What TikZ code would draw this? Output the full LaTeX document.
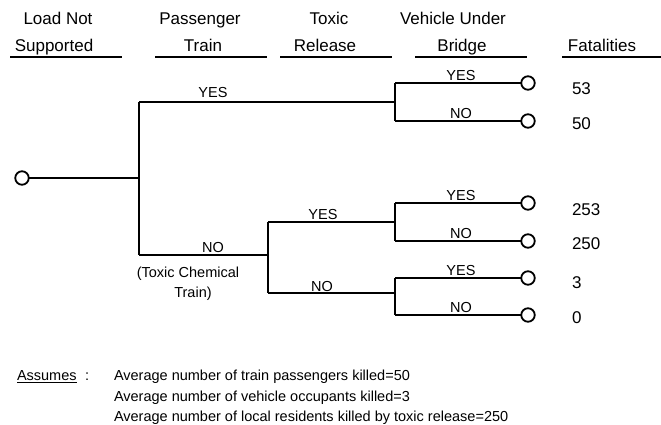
\documentclass[tikz,border=0pt]{standalone}
\usepackage{fontspec}
\setmainfont{Liberation Sans}
\begin{document}
\begin{tikzpicture}[x=1pt,y=-1pt,
  every node/.style={inner sep=0pt, outer sep=0pt},
  hdr/.style={font=\fontsize{17}{20}\selectfont, anchor=base},
  lbl/.style={font=\fontsize{14.5}{17}\selectfont, anchor=base},
  num/.style={font=\fontsize{17}{20}\selectfont, anchor=base west},
  note/.style={font=\fontsize{14.5}{17}\selectfont, anchor=base west},
  evt/.style={circle, draw, line width=1.8pt, minimum size=13.5pt, fill=white},
  br/.style={line width=1.8pt},
  ul/.style={line width=1.8pt}]
\useasboundingbox (0,0) rectangle (661,425);

% headers
\node[hdr] (h1a) at (58,25) {Load Not};
\node[hdr] (h1b) at (54,52) {Supported};
\node[hdr] (h2a) at (200,25) {Passenger};
\node[hdr] (h2b) at (203,52) {Train};
\node[hdr] (h3a) at (329,25) {Toxic};
\node[hdr] (h3b) at (325,52) {Release};
\node[hdr] (h4a) at (453,25) {Vehicle Under};
\node[hdr] (h4b) at (462,52) {Bridge};
\node[hdr] (h5b) at (602,52) {Fatalities};
\coordinate (u1s) at (10,57);  \coordinate (u1e) at (122,57);
\coordinate (u2s) at (155,57); \coordinate (u2e) at (267,57);
\coordinate (u3s) at (280,57); \coordinate (u3e) at (392,57);
\coordinate (u4s) at (415,57); \coordinate (u4e) at (527,57);
\coordinate (u5s) at (562,57); \coordinate (u5e) at (661,57);
\draw[ul] (u1s) -- (u1e);
\draw[ul] (u2s) -- (u2e);
\draw[ul] (u3s) -- (u3e);
\draw[ul] (u4s) -- (u4e);
\draw[ul] (u5s) -- (u5e);

% tree junctions
\coordinate (j0)  at (139,178);
\coordinate (jy)  at (139,102);
\coordinate (jn)  at (139,255);
\coordinate (a1)  at (395,102);
\coordinate (a1y) at (395,83);
\coordinate (a1n) at (395,121);
\coordinate (b0)  at (268,255);
\coordinate (by)  at (268,222);
\coordinate (bn)  at (268,293);
\coordinate (c1)  at (395,222);
\coordinate (c1y) at (395,203);
\coordinate (c1n) at (395,241);
\coordinate (c2)  at (395,293);
\coordinate (c2y) at (395,278);
\coordinate (c2n) at (395,315);

% event circles
\node[evt] (root) at (22,178) {};
\node[evt] (e1) at (528,83) {};
\node[evt] (e2) at (528,121) {};
\node[evt] (e3) at (528,203) {};
\node[evt] (e4) at (528,241) {};
\node[evt] (e5) at (528,278) {};
\node[evt] (e6) at (528,315) {};

% branches
\draw[br] (root) -- (j0);
\draw[br] (jy) -- (jn);
\draw[br] (jy) -- (a1);
\draw[br] (a1y) -- (a1n);
\draw[br] (a1y) -- (e1);
\draw[br] (a1n) -- (e2);
\draw[br] (jn) -- (b0);
\draw[br] (by) -- (bn);
\draw[br] (by) -- (c1);
\draw[br] (bn) -- (c2);
\draw[br] (c1y) -- (c1n);
\draw[br] (c2y) -- (c2n);
\draw[br] (c1y) -- (e3);
\draw[br] (c1n) -- (e4);
\draw[br] (c2y) -- (e5);
\draw[br] (c2n) -- (e6);

% branch labels
\node[lbl] (ly1) at (213,98) {YES};
\node[lbl] (ln1) at (213,252) {NO};
\node[lbl] (tc1) at (188,277) {(Toxic Chemical};
\node[lbl] (tc2) at (193,297) {Train)};
\node[lbl] (ly2) at (323,219) {YES};
\node[lbl] (ln2) at (322,291) {NO};
\node[lbl] (v1) at (461,80.5) {YES};
\node[lbl] (v2) at (461,118.5) {NO};
\node[lbl] (v3) at (461,200.5) {YES};
\node[lbl] (v4) at (461,238.5) {NO};
\node[lbl] (v5) at (461,275.5) {YES};
\node[lbl] (v6) at (461,312.5) {NO};

% fatalities
\node[num] (f1) at (572,95) {53};
\node[num] (f2) at (572,129) {50};
\node[num] (f3) at (572,215) {253};
\node[num] (f4) at (572,249) {250};
\node[num] (f5) at (572,288) {3};
\node[num] (f6) at (572,323) {0};

% notes
\node[note] (as) at (17,380) {Assumes};
\draw[line width=1pt] ([yshift=-2.2pt]as.base west) -- ([yshift=-2.2pt]as.base east);
\node[note] (colon) at (85,380) {:};
\node[note] (n1) at (114,380) {Average number of train passengers killed=50};
\node[note] (n2) at (114,401) {Average number of vehicle occupants killed=3};
\node[note] (n3) at (114,421) {Average number of local residents killed by toxic release=250};
\end{tikzpicture}
\end{document}
